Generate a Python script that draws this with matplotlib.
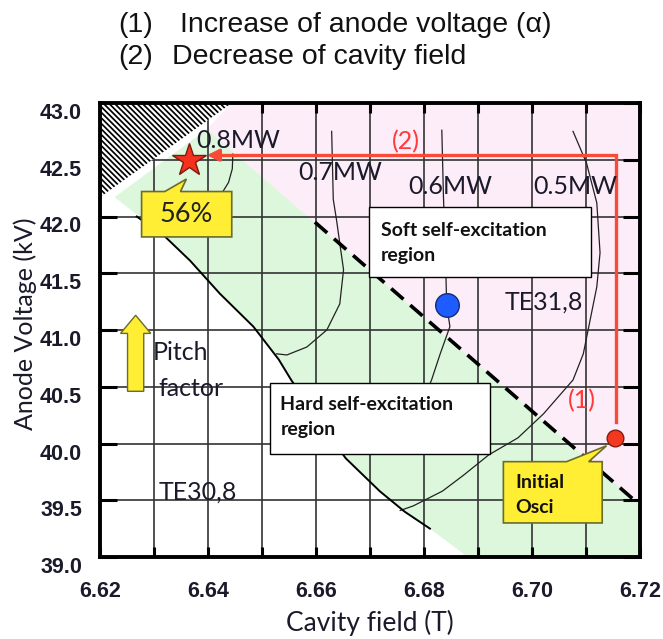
import numpy as np
import matplotlib.pyplot as plt
import matplotlib.transforms as mtransforms
from matplotlib.patches import Polygon, Rectangle, FancyArrow
from matplotlib.ticker import MultipleLocator, FormatStrFormatter

# power contours, cavity field B (T) vs anode voltage V (kV)
p08_B = [6.6446, 6.6445, 6.6438, 6.6425]
p08_V = [42.55, 42.42, 42.30, 42.20]
p07_B = [6.6629, 6.6632, 6.6638, 6.6651, 6.6644, 6.6620, 6.6583, 6.6546, 6.6527]
p07_V = [42.75, 42.15, 41.97, 41.53, 41.23, 41.00, 40.85, 40.78, 40.79]
p06_B = [6.6833, 6.6836, 6.6840, 6.6842, 6.6848, 6.6830, 6.6814, 6.6800]
p06_V = [42.76, 42.18, 41.60, 41.22, 41.03, 40.79, 40.56, 40.40]
p05_B = [6.7076, 6.7101, 6.7120, 6.7126, 6.7120, 6.7095, 6.7076, 6.7021,
         6.6974, 6.6920, 6.6873, 6.6834, 6.6780, 6.6756]
p05_V = [42.75, 42.47, 42.12, 41.68, 41.38, 40.79, 40.56, 40.26,
         40.05, 39.90, 39.72, 39.58, 39.45, 39.41]

# hard self-excitation boundary
hard_B = [6.6268, 6.6321, 6.6367, 6.6422, 6.6484, 6.6531, 6.6554, 6.6605,
          6.6655, 6.6718, 6.6764, 6.6811]
hard_V = [42.00, 41.82, 41.61, 41.32, 41.03, 40.74, 40.56, 40.20,
          39.87, 39.58, 39.40, 39.25]

# soft self-excitation boundary (dashed)
soft_B = [6.6598, 6.7192]
soft_V = [41.95, 39.49]

# shaded regions
green_B = [6.6227, 6.6398] + [6.72, 6.72, 6.6881] + hard_B[::-1][:-1]
green_V = [42.17, 42.77] + [39.458, 39.0, 39.0] + hard_V[::-1][:-1]
pink_B = [6.6398, 6.6444, 6.72, 6.72]
pink_V = [42.77, 43.0, 43.0, 39.458]
hatch_B = [6.62, 6.6444, 6.62]
hatch_V = [43.0, 43.0, 42.17]

# operating path and points
path_B = [6.7155, 6.7155, 6.6420]
path_V = [40.19, 42.54, 42.54]
star_B, star_V = 6.6364, 42.50
init_B, init_V = 6.7153, 40.05
blue_B, blue_V = 6.6842, 41.22

RED = '#f94a38'
plt.rcParams['hatch.linewidth'] = 1.25

fig = plt.figure(figsize=(6.63, 6.39), dpi=100)
ax = fig.add_axes([100/663, 1 - 557/639, 540/663, 454/639])

ax.fill(pink_B, pink_V, color='#fdedf8', lw=0, zorder=0.5)
ax.fill(green_B, green_V, color='#dcf7dc', lw=0, zorder=0.6)
ax.add_patch(Polygon(np.column_stack([hatch_B, hatch_V]), closed=True,
                     facecolor='white', edgecolor='black', lw=0,
                     hatch='\\\\\\\\\\\\', zorder=1.8))

for bb, vv in [(p08_B, p08_V), (p07_B, p07_V), (p06_B, p06_V), (p05_B, p05_V)]:
    ax.plot(bb, vv, color='#222222', lw=0.9, zorder=3)
ax.plot(hard_B, hard_V, color='black', lw=1.4, zorder=3)
ax.plot(soft_B, soft_V, color='black', lw=2.6, dashes=(4.5, 2.5), zorder=3)

ax.plot(path_B, path_V, color=RED, lw=2.4, zorder=4, solid_joinstyle='miter')
ax.annotate('', xy=(6.6398, 42.54), xytext=(path_B[-1], path_V[-1]),
            arrowprops=dict(arrowstyle='-|>,head_length=0.7,head_width=0.35',
                            color=RED, lw=2.4, shrinkA=0, shrinkB=0), zorder=4)

ax.plot(star_B, star_V, marker='*', ms=25, mfc='#f2321e', mec='#7a1a10', mew=1, zorder=6)
ax.plot(init_B, init_V, marker='o', ms=12, mfc='#f2381f', mec='#8a1a0a', mew=1, zorder=6)
ax.plot(blue_B, blue_V, marker='o', ms=17, mfc='#1f5cff', mec='#102a80', mew=1, zorder=6)

# text boxes
ax.add_patch(Rectangle((6.6698, 41.47), 0.0412, 0.61, facecolor='white',
                       edgecolor='black', lw=1, zorder=5))
ax.add_patch(Rectangle((6.6515, 39.91), 0.0407, 0.62, facecolor='white',
                       edgecolor='black', lw=1, zorder=5))
lab = dict(family='Lato', fontsize=14, fontweight='bold', color='#111111', zorder=6, va='center')
ax.text(6.672, 41.88, 'Soft self-excitation', **lab)
ax.text(6.672, 41.66, 'region', **lab)
ax.text(6.6534, 40.34, 'Hard self-excitation', **lab)
ax.text(6.6534, 40.12, 'region', **lab)

# yellow callouts
YEL, YEDGE = '#ffee33', '#6b6b2b'
ax.add_patch(Polygon([(6.6277, 41.82), (6.6277, 42.22), (6.6320, 42.22), (6.6360, 42.33),
                      (6.6349, 42.22), (6.6444, 42.22), (6.6444, 41.82)],
                     closed=True, facecolor=YEL, edgecolor=YEDGE, lw=1.2, zorder=5))
ax.text(6.6360, 42.02, '56%', family='Lato', fontsize=19.5, ha='center', va='center',
        color='#222222', zorder=6)
ax.add_patch(Polygon([(6.6947, 39.30), (6.6947, 39.84), (6.7064, 39.84), (6.7138, 39.98),
                      (6.7105, 39.84), (6.7130, 39.84), (6.7130, 39.30)],
                     closed=True, facecolor=YEL, edgecolor=YEDGE, lw=1.2, zorder=5))
ax.text(6.6969, 39.66, 'Initial', family='Lato', fontsize=14, fontweight='bold',
        va='center', color='#111111', zorder=6)
ax.text(6.6969, 39.44, 'Osci', family='Lato', fontsize=14, fontweight='bold',
        va='center', color='#111111', zorder=6)

ax.add_patch(FancyArrow(6.6266, 40.46, 0, 0.67, width=0.003, head_width=0.0056,
                        head_length=0.16, length_includes_head=True,
                        facecolor=YEL, edgecolor=YEDGE, lw=1, zorder=5))
big = dict(family='Lato', fontsize=18, color='#1a1a2a', va='center', zorder=6)
ax.text(6.6298, 40.80, 'Pitch', **big)
ax.text(6.6309, 40.485, 'factor', **big)
ax.text(6.6379, 42.67, '0.8MW', **big)
ax.text(6.6567, 42.39, '0.7MW', **big)
ax.text(6.6771, 42.26, '0.6MW', **big)
ax.text(6.7002, 42.26, '0.5MW', **big)
ax.text(6.6950, 41.25, 'TE31,8', **big)
ax.text(6.6309, 39.57, 'TE30,8', **big)
ax.text(6.6766, 42.66, '(2)', family='Lato', fontsize=18, color='#ff3a3a',
        ha='center', va='center', zorder=6)
ax.text(6.7093, 40.38, '(1)', family='Lato', fontsize=18, color='#ff3a3a',
        ha='center', va='center', zorder=6)

# axes
ax.set_xlim(6.62, 6.72)
ax.set_ylim(39.0, 43.0)
ax.xaxis.set_major_locator(MultipleLocator(0.02))
ax.xaxis.set_minor_locator(MultipleLocator(0.01))
ax.xaxis.set_major_formatter(FormatStrFormatter('%.2f'))
ax.yaxis.set_major_locator(MultipleLocator(0.5))
ax.yaxis.set_major_formatter(FormatStrFormatter('%.1f'))
ax.grid(True, which='both', color='#333333', lw=1.2)
ax.tick_params(axis='both', which='both', direction='in', top=True, right=True,
               width=2.2, color='black')
ax.tick_params(axis='x', which='both', length=7, pad=17)
ax.tick_params(axis='y', which='major', length=12, pad=13)
for sp in ax.spines.values():
    sp.set_linewidth(2.8)
for t in ax.get_xticklabels() + ax.get_yticklabels():
    t.set_fontfamily('Liberation Sans')
    t.set_fontweight('bold')
    t.set_fontsize(15.5)
    t.set_color('#1a1a2a')
off = mtransforms.ScaledTranslation(0, -0.08, fig.dpi_scale_trans)
for t in ax.get_yticklabels():
    t.set_transform(t.get_transform() + off)

fig.text(25/663, 1 - 324/639, 'Anode Voltage (kV)', family='Lato', fontsize=18,
         rotation=90, ha='center', va='center', color='#1a1a2a')
fig.text(370/663, 1 - 623/639, 'Cavity field (T)', family='Lato', fontsize=19,
         ha='center', va='center', color='#1a1a2a')

tt = dict(family='Liberation Sans', fontsize=20.5, va='center', color='#111111')
fig.text(118/663, 1 - 25/639, '(1)', **tt)
fig.text(180/663, 1 - 25/639, 'Increase of anode voltage (\u03b1)', **tt)
fig.text(118/663, 1 - 57/639, '(2)', **tt)
fig.text(172/663, 1 - 57/639, 'Decrease of cavity field', **tt)

fig.savefig('out.png', dpi=100)
